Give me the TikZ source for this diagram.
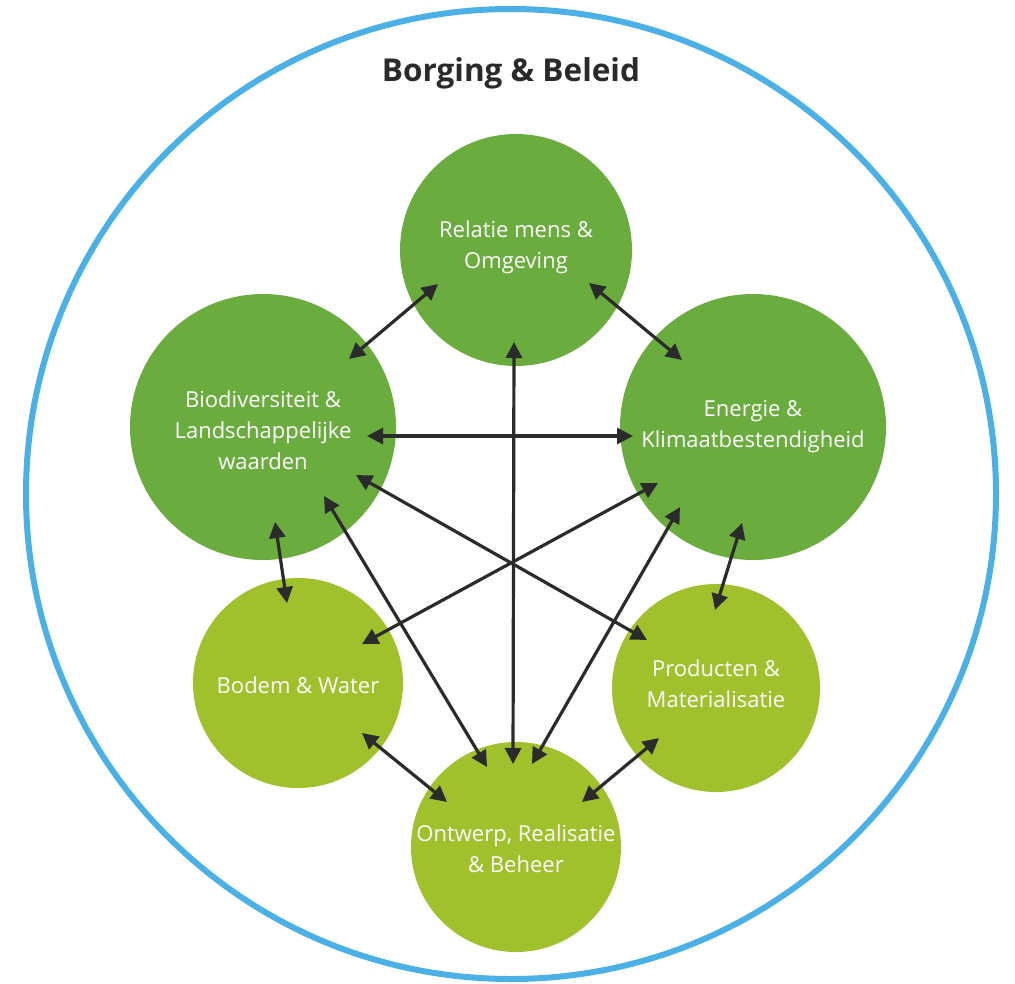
\documentclass[tikz,border=0pt]{standalone}
\usepackage{fontspec}
\setmainfont{Open Sans}
\usetikzlibrary{arrows.meta,calc}
\definecolor{dgreen}{HTML}{6AAC3E}
\definecolor{lgreen}{HTML}{A0C02C}
\definecolor{ringblue}{HTML}{4AB0E6}
\definecolor{arrowgray}{HTML}{2B2B2B}
\definecolor{titlegray}{HTML}{2A2A2A}
\begin{document}
\begin{tikzpicture}[x=1pt,y=-1pt,
  topic/.style={circle,inner sep=0pt,draw=none},
  upper/.style={topic,fill=dgreen},
  lower/.style={topic,fill=lgreen},
  txt/.style={text=white,align=center,inner sep=0pt,font=\fontsize{22}{31}\selectfont},
  link/.style={draw=arrowgray,line width=3.2pt,{Triangle[length=16pt,width=16pt]}-{Triangle[length=16pt,width=16pt]}}]
\useasboundingbox (0,0) rectangle (1015,983);
% outer ring
\node[circle,draw=ringblue,line width=6pt,minimum size=970pt,inner sep=0pt] (ring) at (511,494) {};
\node[font=\fontsize{31.5}{38}\selectfont\bfseries,text=titlegray,anchor=base] (title) at (511,81) {Borging \& Beleid};
% topic circles
\node[upper,minimum size=232pt] (rel) at (516,250) {};
\node[upper,minimum size=266pt] (bio) at (263,427) {};
\node[upper,minimum size=266pt] (ene) at (753,427) {};
\node[lower,minimum size=210pt] (bod) at (298,683) {};
\node[lower,minimum size=208pt] (pro) at (716,688) {};
\node[lower,minimum size=210pt] (ont) at (516,847) {};
% texts
\node[txt] (relT) at (516,247) {Relatie mens \&\\Omgeving};
\node[txt] (bioT) at (263,430) {Biodiversiteit \&\\Landschappelijke\\waarden};
\node[txt] (eneT) at (753,427) {Energie \&\\Klimaatbestendigheid};
\node[txt] (bodT) at (298,685) {Bodem \& Water};
\node[txt] (proT) at (716,684) {Producten \&\\Materialisatie};
\node[txt] (ontT) at (516,849) {Ontwerp, Realisatie\\\& Beheer};
% connectors
\draw[link] ($(rel)+(-78,34)$) -- ($(bio)+(86,-68)$);
\draw[link] ($(rel)+(73,33)$) -- ($(ene)+(-71,-67)$);
\draw[link] ($(rel)+(-2,92)$) -- ($(ont)+(-3,-83)$);
\draw[link] ($(bio)+(104,9)$) -- ($(ene)+(-120,9)$);
\draw[link] ($(bio)+(12,95)$) -- ($(bod)+(-11,-80)$);
\draw[link] ($(ene)+(-11,96)$) -- ($(pro)+(-1,-78)$);
\draw[link] ($(bod)+(64,50)$) -- ($(ont)+(-69,-45)$);
\draw[link] ($(pro)+(-57,50)$) -- ($(ont)+(66,-45)$);
\draw[link] ($(bio)+(93,48)$) -- ($(pro)+(-69,-48)$);
\draw[link] ($(ene)+(-95,56)$) -- ($(bod)+(64,-39)$);
\draw[link] ($(bio)+(61,69)$) -- ($(ont)+(-29,-80)$);
\draw[link] ($(ene)+(-73,80)$) -- ($(ont)+(16,-83)$);
\end{tikzpicture}
\end{document}
